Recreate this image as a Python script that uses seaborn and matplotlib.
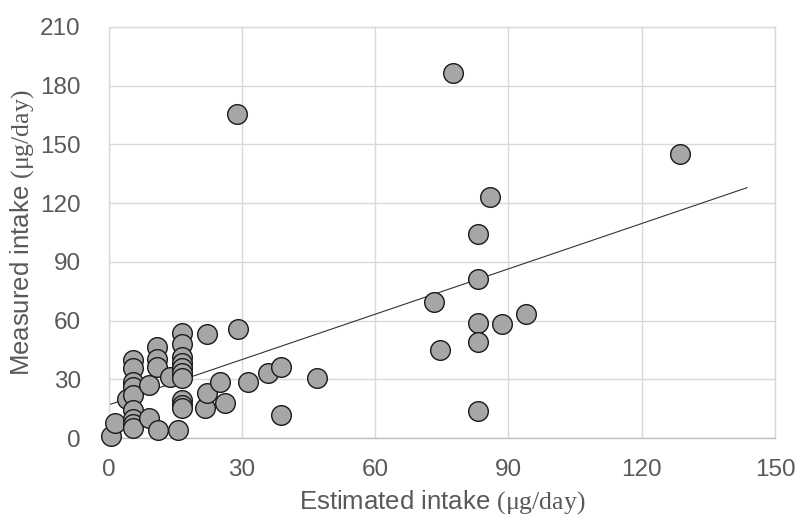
import matplotlib
matplotlib.use("Agg")
import matplotlib.pyplot as plt
import seaborn as sns
import pandas as pd

# Data
estimated = [0.5, 1.5, 4.1, 5.6, 5.6, 5.6, 5.6, 5.6, 5.6, 5.6, 5.6, 5.6,
             9.0, 9.0, 11.0, 11.0, 11.0, 11.2, 13.8, 15.7,
             16.6, 16.6, 16.6, 16.6, 16.6, 16.6, 16.6, 16.6, 16.6, 16.6,
             21.7, 22.2, 22.2, 25.1, 26.2, 29.1, 28.9, 31.4, 35.9, 38.7, 38.7, 47.0,
             73.3, 74.7, 77.5, 83.1, 83.1, 83.1, 83.1, 83.1, 85.8, 88.6, 94.0, 128.7]
measured = [1.0, 7.7, 19.9, 40.0, 35.7, 28.9, 26.0, 22.0, 14.4, 10.0, 7.5, 5.2,
            27.2, 10.5, 46.5, 40.5, 36.3, 4.2, 31.4, 4.2,
            53.6, 48.0, 41.6, 38.5, 36.0, 33.2, 30.6, 19.5, 17.0, 15.3,
            15.3, 23.3, 53.2, 28.9, 18.2, 55.8, 165.5, 28.9, 33.5, 36.5, 11.7, 30.6,
            69.5, 44.9, 186.4, 104.4, 81.1, 59.0, 49.0, 14.1, 123.0, 58.3, 63.3, 145.1]

trend_x = [0.0, 143.7]
trend_y = [17.0, 127.9]

x_ticks = [0, 30, 60, 90, 120, 150]
y_ticks = [0, 30, 60, 90, 120, 150, 180, 210]

sns.set_theme(style="white")
plt.rcParams['font.family'] = ['Liberation Sans', 'DejaVu Sans']
plt.rcParams['mathtext.fontset'] = 'custom'
plt.rcParams['mathtext.rm'] = 'Liberation Serif'

df = pd.DataFrame({"est": estimated, "meas": measured})
tdf = pd.DataFrame({"x": trend_x, "y": trend_y})

fig = plt.figure(figsize=(7.95, 5.15), dpi=100)
ax = fig.add_axes([0.1365, 0.149, 0.8385, 0.799])

grid_c = "#D9D9D9"
text_c = "#595959"

ax.set_xlim(0, 150)
ax.set_ylim(0, 210)
ax.set_xticks(x_ticks)
ax.set_yticks(y_ticks)
ax.grid(True, color=grid_c, linewidth=1.0)
ax.set_axisbelow(True)
for s in ax.spines.values():
    s.set_color(grid_c)
    s.set_linewidth(1.0)
ax.spines['bottom'].set_color("#BFBFBF")

sns.lineplot(data=tdf, x="x", y="y", ax=ax, color="#333333", linewidth=0.8, zorder=2)
sns.scatterplot(data=df, x="est", y="meas", ax=ax, s=200, color="#A6A6A6",
                edgecolor="#1A1A1A", linewidth=1.0, zorder=3, clip_on=False)
for c in ax.collections:
    c.set_clip_on(False)

ax.tick_params(axis='both', length=0, labelsize=17.5, labelcolor=text_c)
ax.tick_params(axis='x', pad=15)
ax.tick_params(axis='y', pad=20)
ax.set_xlabel("Estimated intake $\\mathrm{(μg/day)}$", fontsize=18.5, color=text_c, labelpad=5)
ax.set_ylabel("Measured intake $\\mathrm{(μg/day)}$", fontsize=18.5, color=text_c, labelpad=3)

fig.savefig("out.png", dpi=100)
